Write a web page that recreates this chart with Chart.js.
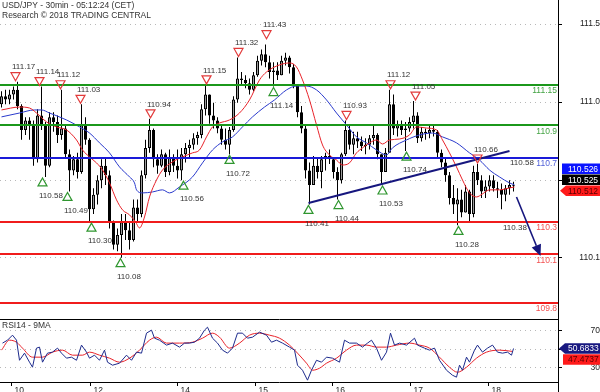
<!DOCTYPE html>
<html>
<head>
<meta charset="utf-8">
<title>USD/JPY 30min</title>
<script src="https://cdn.jsdelivr.net/npm/chart.js@4.4.1/dist/chart.umd.min.js"></script>
<style>
 html, body { margin:0; padding:0; background:#fff; }
 #wrap { position:relative; width:600px; height:392px; overflow:hidden; background:#fff; }
 canvas { position:absolute; left:0; display:block; }
 #main { top:0; }
 #rsi { top:319px; }
</style>
</head>
<body>
<div id="wrap">
 <canvas id="main" width="600" height="319" style="width:600px;height:319px"></canvas>
 <canvas id="rsi" width="600" height="73" style="width:600px;height:73px"></canvas>
</div>
<script>
// ---------------- DATA ----------------
const titleLine1 = 'USD/JPY - 30min - 05:12:24 (CET)';
const titleLine2 = 'Research \u00A9 2018 TRADING CENTRAL';
const rsiTitle = 'RSI14 - 9MA';

// candles (one per ~2.5 bars of 30 min), index 0..128
const candleOpen = [
 111.03,111.08,111.06,111.09,111.12,111.02,110.87,110.93,110.90,110.69,
 110.96,110.90,110.65,110.95,110.92,110.84,110.88,110.72,110.62,110.69,
 110.61,110.90,110.81,110.38,110.47,110.56,110.65,110.59,110.30,110.16,
 110.22,110.30,110.25,110.19,110.39,110.35,110.59,110.76,110.87,110.69,
 110.65,110.72,110.61,110.70,110.65,110.62,110.72,110.76,110.78,110.82,
 110.84,111.00,111.09,110.96,110.93,110.88,110.81,110.78,110.87,111.06,
 111.19,111.18,111.16,111.12,111.21,111.30,111.34,111.29,111.23,111.24,
 111.21,111.30,111.32,111.26,111.15,110.98,110.88,110.62,110.53,110.65,
 110.61,110.69,110.71,110.69,110.61,110.56,110.72,110.87,110.78,110.82,
 110.80,110.77,110.78,110.82,110.84,110.72,110.61,110.73,111.03,110.88,
 110.90,110.87,110.88,110.92,110.96,110.82,110.86,110.85,110.87,110.86,
 110.73,110.67,110.59,110.45,110.41,110.44,110.36,110.49,110.35,110.61,
 110.56,110.49,110.52,110.56,110.51,110.50,110.47,110.51,110.53];
const candleHigh = [
 111.11,111.12,111.12,111.14,111.17,111.03,110.95,110.95,110.93,111.00,
 111.14,110.92,110.98,110.98,110.96,111.12,110.90,110.75,110.71,110.73,
 111.03,110.95,110.82,110.51,110.59,110.69,110.70,110.62,110.31,110.26,
 110.35,110.35,110.30,110.44,110.44,110.62,110.81,110.94,110.88,110.72,
 110.75,110.73,110.75,110.72,110.75,110.76,110.79,110.81,110.85,110.86,
 111.03,111.15,111.09,111.04,110.95,110.90,110.88,110.89,111.08,111.32,
 111.23,111.21,111.19,111.23,111.33,111.37,111.40,111.33,111.29,111.29,
 111.33,111.35,111.33,111.28,111.15,111.02,110.90,110.67,110.71,110.70,
 110.71,110.73,110.75,110.70,110.64,110.73,110.93,110.90,110.86,110.86,
 110.83,110.82,110.84,110.90,110.85,110.72,110.76,111.12,111.09,110.93,
 110.93,110.92,110.95,111.05,110.98,110.89,110.88,110.90,110.90,110.87,
 110.75,110.70,110.61,110.53,110.51,110.50,110.53,110.50,110.65,110.66,
 110.59,110.56,110.59,110.59,110.55,110.54,110.53,110.56,110.55];
const candleLow = [
 111.01,111.03,111.03,111.06,111.00,110.81,110.84,110.81,110.65,110.67,
 110.87,110.58,110.64,110.86,110.79,110.81,110.70,110.49,110.59,110.57,
 110.60,110.78,110.30,110.35,110.41,110.51,110.53,110.26,110.13,110.12,
 110.08,110.19,110.13,110.18,110.30,110.33,110.57,110.73,110.64,110.60,
 110.64,110.58,110.59,110.61,110.57,110.56,110.67,110.70,110.75,110.78,
 110.82,110.96,110.91,110.88,110.85,110.78,110.75,110.72,110.86,111.04,
 111.15,111.13,111.09,111.11,111.20,111.27,111.26,111.19,111.14,111.18,
 111.21,111.27,111.22,111.13,110.95,110.85,110.57,110.41,110.53,110.57,
 110.51,110.62,110.66,110.57,110.44,110.54,110.71,110.75,110.72,110.76,
 110.74,110.72,110.75,110.78,110.69,110.53,110.61,110.73,110.84,110.83,
 110.84,110.74,110.86,110.88,110.79,110.80,110.81,110.82,110.83,110.70,
 110.64,110.55,110.41,110.35,110.28,110.33,110.36,110.30,110.33,110.53,
 110.45,110.45,110.49,110.49,110.45,110.38,110.43,110.47,110.49];
const candleClose = [
 111.08,111.06,111.09,111.12,111.02,110.87,110.93,110.90,110.69,110.96,
 110.90,110.65,110.95,110.92,110.84,110.88,110.72,110.62,110.69,110.61,
 110.90,110.81,110.38,110.47,110.56,110.65,110.59,110.30,110.16,110.22,
 110.30,110.25,110.19,110.39,110.35,110.59,110.76,110.87,110.69,110.65,
 110.72,110.61,110.70,110.65,110.62,110.72,110.76,110.78,110.82,110.84,
 111.00,111.09,110.96,110.93,110.88,110.81,110.78,110.87,111.06,111.19,
 111.18,111.16,111.12,111.21,111.30,111.34,111.29,111.23,111.24,111.21,
 111.30,111.32,111.26,111.15,110.98,110.88,110.62,110.53,110.65,110.61,
 110.69,110.71,110.69,110.61,110.56,110.72,110.87,110.78,110.82,110.80,
 110.77,110.78,110.82,110.84,110.72,110.61,110.73,111.03,110.88,110.90,
 110.87,110.88,110.92,110.96,110.82,110.86,110.85,110.87,110.86,110.73,
 110.67,110.59,110.45,110.41,110.44,110.36,110.49,110.35,110.61,110.56,
 110.49,110.52,110.56,110.51,110.50,110.47,110.51,110.53,110.525];

// moving averages on price (x = candle index)
const maFastX = [0,4.5,7,8.75,11.25,13.75,16.25,18.75,20.25,22,23.75,25.25,27,28.75,30.25,32,33.5,34.5,35.75,37,38.75,40.25,42.75,45.25,47.75,49.5,51.25,52.75,54.5,57,59.5,62,64.5,66.25,69.5,72,73.75,75.25,77,78.75,80.25,82,83.75,85.25,87,88.75,90.25,92,93.75,95.25,97,99.5,102,103.75,106.25,108.75,110.25,112,113.75,115.25,117,118.75,120.25,122,124.5,127,128.25];
const maFastY = [110.995,111.013,111.007,110.976,110.921,110.890,110.871,110.809,110.747,110.704,110.667,110.623,110.543,110.438,110.376,110.345,110.302,110.264,110.332,110.456,110.561,110.623,110.673,110.704,110.729,110.747,110.828,110.890,110.914,110.933,110.976,111.057,111.181,111.230,111.274,111.286,111.261,111.181,111.057,110.902,110.778,110.716,110.685,110.654,110.667,110.729,110.760,110.791,110.809,110.784,110.809,110.815,110.840,110.890,110.883,110.871,110.809,110.729,110.642,110.561,110.481,110.456,110.475,110.500,110.500,110.512,110.518];
const maSlowX = [0,4.5,8.25,10,12,16.25,19.5,22,24.5,27,29.5,32,33.25,33.75,35.25,37.75,40.25,42,44.5,47.75,50.25,52.75,55.25,57.75,60.25,62.75,65.75,68.25,71.25,73.75,76.25,78.75,81.25,83.75,86.25,88.75,91.25,93.75,96.25,97.75,101.25,104.5,107.75,110.25,113.75,117,119.5,122,124.5,127,128.25];
const maSlowY = [110.952,110.976,110.995,110.995,110.976,110.933,110.890,110.852,110.791,110.729,110.642,110.580,110.543,110.500,110.481,110.487,110.500,110.481,110.518,110.580,110.667,110.747,110.797,110.828,110.890,110.952,111.013,111.057,111.119,111.143,111.143,111.119,111.057,110.976,110.902,110.828,110.791,110.747,110.716,110.760,110.809,110.840,110.852,110.828,110.791,110.729,110.685,110.623,110.580,110.543,110.531];

// horizontal key levels
const levelValues = [111.15, 110.9, 110.7, 110.3, 110.1, 109.8];
const levelLabels = ['111.15', '110.9', '110.7', '110.3', '110.1', '109.8'];
const levelKind   = ['resistance', 'resistance', 'pivot', 'support', 'support', 'support'];

// swing high / low annotations
const markX     = [3.5, 9.5, 14.75, 19.75, 37.25, 51.25, 59.25, 66.25, 86.25, 97.25, 103.5, 119, 128,
                   10.25, 16.5, 22.5, 29.75, 45.5, 57, 68, 76.75, 84.25, 95.25, 101.25, 114.25, 126.25];
const markPrice = [111.17, 111.14, 111.12, 111.03, 110.94, 111.15, 111.32, 111.43, 110.93, 111.12, 111.05, 110.66, 110.58,
                   110.58, 110.49, 110.30, 110.08, 110.56, 110.72, 111.14, 110.41, 110.44, 110.53, 110.74, 110.28, 110.38];
const markKind  = ['H','H','H','H','H','H','H','H','H','H','H','H','H',
                   'L','L','L','L','L','L','L','L','L','L','L','L','L'];
const markText  = ['111.17','111.14','111.12','111.03','110.94','111.15','111.32','111.43','110.93','111.12','111.05','110.66','110.58',
                   '110.58','110.49','110.30','110.08','110.56','110.72','111.14','110.41','110.44','110.53','110.74','110.28','110.38'];
const markTriangle = [1,1,1,1,1,1,1,1,1,1,1,1,0, 1,1,1,1,1,1,1,1,1,1,1,1,0];

// trend line and projection arrow: [index, price]
const trendFrom = [76.75, 110.419];
const trendTo   = [127, 110.741];
const arrowFrom = [128.75, 110.456];
const arrowTo   = [134.75, 110.091];

// price axis ticks
const priceTickValues = [111.527, 111.044, 110.561, 110.078];
const priceTickLabels = ['111.5', '111.0', '110.5', '110.1'];
// last price tags
const priceTagValues = [110.526, 110.525, 110.512];

// date axis
const dateTickX = [2.5, 22.25, 44, 63.5, 82.75, 102.25, 121.75];
const dateTickLabels = ['10', '12', '14', '15', '16', '17', '18'];

// RSI14 and its 9-period MA
const rsiX = [0.25,1.5,2.75,3.75,4.5,5.75,7,7.75,8.75,9.5,10.25,11.5,12.75,14,15,16.25,17.5,18.75,20,21.25,22,23.25,24.5,25.75,26.5,27.75,29.5,31.25,32.5,33.75,35,36.25,37.5,38.25,39.5,41.25,42.75,44.5,45.75,47,48.25,49.5,50.75,51.5,52.75,54,55.25,56.5,57.75,59,60.25,61.5,62.75,64.5,66.25,67.5,68.75,70.25,72,73.25,74,75.25,76.5,77.5,78.75,80,81.25,82.75,84.5,85.75,87,88.75,90.25,91.5,92.5,93.75,95,96.25,97.25,98.25,99.5,101.25,103.25,104,105.75,107,108.25,109.5,111.25,112.75,113.75,114.5,115.25,116.25,117,118.25,119,120.25,121.5,122.75,124,125.25,126.5,127.5,128];
const rsiY = [56.6,59.8,65.3,59.8,37.8,45.6,35.7,30.2,51.1,52.2,35.7,45.6,46.7,51.1,45.6,40.1,41.2,37.8,54.4,46.7,40.1,43.4,37.8,48.9,35.7,32.4,34.6,43.4,37.8,46.7,45.6,67.5,70.8,62.0,59.8,54.4,56.6,52.2,56.6,56.6,57.6,62.0,70.8,74.0,62.0,56.6,48.9,45.6,51.1,67.5,67.5,62.0,63.1,68.6,65.3,57.6,59.8,56.6,52.2,48.9,32.4,26.9,16.0,26.9,37.8,35.7,41.2,40.1,35.7,59.8,56.6,56.6,52.2,56.6,59.8,51.1,37.8,46.7,67.5,54.4,56.6,54.4,62.0,54.4,51.1,48.9,51.1,37.8,26.9,21.4,19.3,32.4,26.9,41.2,35.7,48.9,54.4,46.7,51.1,54.4,46.7,45.6,46.7,43.4,50.68];
const rsiMaX = [0,2,3.75,5.25,7.75,10.25,12.75,15.25,17.75,20.25,22,24.5,27,29.5,32,34.5,37,38.75,41.25,44.5,47.75,50.25,52.75,54.5,57,59.5,62,64.5,67,69.5,72,74,76.25,77.75,79.5,81.25,83.75,86.25,88.75,91.25,93.75,96.25,98.75,102,104.5,107,109.5,112,114,116.25,118.75,121.25,124.5,127.75];
const rsiMaY = [48.9,59.8,57.6,51.1,41.2,41.2,46.7,48.9,43.4,43.4,46.7,43.4,40.1,35.7,40.1,48.9,59.8,63.1,56.6,56.6,57.6,62.0,67.5,63.1,51.1,56.6,65.3,67.5,65.3,62.0,54.4,45.6,34.6,26.9,29.1,34.6,40.1,48.9,54.4,54.4,52.2,52.2,54.4,56.6,54.4,51.1,41.2,30.2,24.7,30.2,40.1,46.7,48.9,47.47];
const rsiTickValues = [70, 50, 30];
const rsiTickLabels = ['70', '50', '30'];
const rsiTagValues = [50.6833, 47.4737];

// ---------------- STYLE ----------------
const FONT = 'Arial, "Liberation Sans", sans-serif';
Chart.defaults.font.family = FONT;
Chart.defaults.font.size = 8.5;
Chart.defaults.color = '#222';
const LEVEL_COLORS = {resistance: '#1b981b', pivot: '#1a1ad8', support: '#f01c1c'};
const LEVEL_TEXT = {resistance: '#43a343', pivot: '#5060d8', support: '#f25050'};
const X_MIN = -0.375, X_MAX = 139.125;

function xy(xs, ys) { return xs.map((x, i) => ({x: x, y: ys[i]})); }
function fmt(v, d) { return v.toFixed(d); }

// ---------------- MAIN CHART ----------------
const idx = candleClose.map((_, i) => i);

const mainDecor = {
  id: 'mainDecor',
  afterDatasetsDraw(chart) {
    const {ctx, chartArea: a, scales: {x, y}} = chart;
    ctx.save();
    ctx.beginPath(); ctx.rect(a.left, a.top, a.right - a.left, a.bottom - a.top); ctx.clip();
    // key levels
    levelValues.forEach((v, i) => {
      const py = Math.round(y.getPixelForValue(v));
      ctx.strokeStyle = LEVEL_COLORS[levelKind[i]];
      ctx.lineWidth = 2;
      ctx.beginPath(); ctx.moveTo(a.left, py); ctx.lineTo(a.right, py); ctx.stroke();
    });
    // trend line
    ctx.strokeStyle = '#16167e'; ctx.lineWidth = 2;
    ctx.beginPath();
    ctx.moveTo(x.getPixelForValue(trendFrom[0]), y.getPixelForValue(trendFrom[1]));
    ctx.lineTo(x.getPixelForValue(trendTo[0]), y.getPixelForValue(trendTo[1]));
    ctx.stroke();
    // arrow
    const ax0 = x.getPixelForValue(arrowFrom[0]), ay0 = y.getPixelForValue(arrowFrom[1]);
    const ax1 = x.getPixelForValue(arrowTo[0]), ay1 = y.getPixelForValue(arrowTo[1]);
    const ang = Math.atan2(ay1 - ay0, ax1 - ax0);
    const hl = 11, hw = 5;
    const bx = ax1 - hl * Math.cos(ang), by = ay1 - hl * Math.sin(ang);
    ctx.lineWidth = 1.6;
    ctx.beginPath(); ctx.moveTo(ax0, ay0); ctx.lineTo(bx, by); ctx.stroke();
    ctx.fillStyle = '#16167e';
    ctx.beginPath();
    ctx.moveTo(ax1, ay1);
    ctx.lineTo(bx + hw * Math.sin(ang), by - hw * Math.cos(ang));
    ctx.lineTo(bx - hw * Math.sin(ang), by + hw * Math.cos(ang));
    ctx.closePath(); ctx.fill();
    // swing markers
    ctx.font = '8px ' + FONT;
    ctx.textBaseline = 'middle'; ctx.textAlign = 'left';
    markX.forEach((mx, i) => {
      const px = x.getPixelForValue(mx);
      const py = y.getPixelForValue(markPrice[i]);
      const high = markKind[i] === 'H';
      ctx.lineWidth = 1.2;
      if (markTriangle[i]) {
        ctx.strokeStyle = high ? '#e23a3a' : '#2f962f';
        ctx.beginPath();
        if (high) {
          ctx.moveTo(px, py - 1); ctx.lineTo(px - 4.5, py - 9); ctx.lineTo(px + 4.5, py - 9);
        } else {
          ctx.moveTo(px, py + 1); ctx.lineTo(px - 4.5, py + 9); ctx.lineTo(px + 4.5, py + 9);
        }
        ctx.closePath(); ctx.stroke();
      }
      ctx.fillStyle = '#333';
      ctx.fillText(markText[i], px - 3.5, high ? py - 14.5 : py + 19);
    });
    // level labels
    ctx.font = '8.5px ' + FONT;
    ctx.textAlign = 'right';
    levelValues.forEach((v, i) => {
      const py = y.getPixelForValue(v);
      ctx.fillStyle = LEVEL_TEXT[levelKind[i]];
      ctx.fillText(levelLabels[i], a.right - 1, py + 6);
    });
    ctx.restore();
  },
  afterDraw(chart) {
    const {ctx, chartArea: a, scales: {y}} = chart;
    ctx.save();
    // right border
    ctx.strokeStyle = '#000'; ctx.lineWidth = 1;
    ctx.beginPath(); ctx.moveTo(a.right + 0.5, 0); ctx.lineTo(a.right + 0.5, chart.height); ctx.stroke();
    // title
    ctx.font = '8.5px ' + FONT; ctx.fillStyle = '#333';
    ctx.textAlign = 'left'; ctx.textBaseline = 'middle';
    ctx.fillText(titleLine1, 2, 6);
    ctx.fillText(titleLine2, 2, 16);
    // price tags
    const cy = y.getPixelForValue(priceTagValues[1]) - 6;
    drawTag(ctx, fmt(priceTagValues[0], 3), cy - 11, '#0a14ff', '#fff', 562, false);
    drawTag(ctx, fmt(priceTagValues[1], 3), cy, '#000', '#fff', 562, false);
    drawTag(ctx, fmt(priceTagValues[2], 3), cy + 11, '#ff1a1a', '#5a0000', 566, true);
    ctx.restore();
  }
};

function drawTag(ctx, text, cy, bg, fg, left, arrow) {
  const h = 10.5, right = 600;
  ctx.fillStyle = bg;
  ctx.beginPath();
  if (arrow) {
    ctx.moveTo(left - 6, cy); ctx.lineTo(left, cy - h / 2); ctx.lineTo(right, cy - h / 2);
    ctx.lineTo(right, cy + h / 2); ctx.lineTo(left, cy + h / 2); ctx.closePath();
  } else {
    ctx.rect(left, cy - h / 2, right - left, h);
  }
  ctx.fill();
  ctx.font = '8.5px ' + FONT;
  ctx.fillStyle = fg; ctx.textAlign = 'left'; ctx.textBaseline = 'middle';
  ctx.fillText(text, 568, cy + 0.5);
}

new Chart(document.getElementById('main'), {
  type: 'bar',
  data: {
    datasets: [
      {
        type: 'line', label: 'MA fast', data: xy(maFastX, maFastY),
        borderColor: '#e8232a', borderWidth: 1, pointRadius: 0,
        cubicInterpolationMode: 'monotone', order: 0
      },
      {
        type: 'line', label: 'MA slow', data: xy(maSlowX, maSlowY),
        borderColor: '#2a3acc', borderWidth: 1, pointRadius: 0,
        cubicInterpolationMode: 'monotone', order: 1
      },
      {
        type: 'bar', label: 'body',
        data: idx.map(i => ({x: i, y: [Math.min(candleOpen[i], candleClose[i]), Math.max(candleOpen[i], candleClose[i])]})),
        backgroundColor: idx.map(i => candleClose[i] >= candleOpen[i] ? '#9c9c9c' : '#000000'),
        borderColor: '#000', borderWidth: 1, borderSkipped: false, inflateAmount: 0,
        barThickness: 3, grouped: false, order: 2
      },
      {
        type: 'bar', label: 'wick',
        data: idx.map(i => ({x: i, y: [candleLow[i], candleHigh[i]]})),
        backgroundColor: '#000', borderWidth: 0, inflateAmount: 0,
        barThickness: 1, grouped: false, order: 3
      }
    ]
  },
  options: {
    responsive: false, animation: false, devicePixelRatio: 1,
    layout: {padding: 0},
    plugins: {legend: {display: false}, tooltip: {enabled: false}, title: {display: false}},
    scales: {
      x: {type: 'linear', min: X_MIN, max: X_MAX, offset: false, display: false, grid: {offset: false}},
      y: {
        type: 'linear', position: 'right', min: 109.7, max: 111.676, beginAtZero: false,
        afterBuildTicks: (s) => { s.ticks = priceTickValues.map(v => ({value: v})); },
        afterFit: (s) => { s.width = 42; s.paddingTop = 0; s.paddingBottom = 0; },
        ticks: {callback: (v, i) => priceTickLabels[i], crossAlign: 'far', padding: 14, color: '#222', font: {size: 8.5}},
        grid: {color: '#b8b8b8', lineWidth: 1, drawTicks: true, tickLength: 4, tickColor: '#000', tickBorderDash: []},
        border: {display: false, dash: [1, 4]}
      }
    }
  },
  plugins: [mainDecor]
});

// ---------------- RSI CHART ----------------
const rsiDecor = {
  id: 'rsiDecor',
  afterDraw(chart) {
    const {ctx, chartArea: a, scales: {y}} = chart;
    ctx.save();
    ctx.strokeStyle = '#000'; ctx.lineWidth = 1;
    ctx.beginPath();
    ctx.moveTo(0, 0.5); ctx.lineTo(a.right + 1, 0.5);
    ctx.moveTo(0, a.bottom + 0.5); ctx.lineTo(a.right + 1, a.bottom + 0.5);
    ctx.moveTo(a.right + 0.5, 0); ctx.lineTo(a.right + 0.5, chart.height);
    ctx.stroke();
    ctx.font = '8.5px ' + FONT; ctx.fillStyle = '#333';
    ctx.textAlign = 'left'; ctx.textBaseline = 'middle';
    ctx.fillText(rsiTitle, 2, 7);
    const cy = y.getPixelForValue(rsiTagValues[0]);
    drawTag(ctx, fmt(rsiTagValues[0], 4), cy, '#181880', '#fff', 565, true);
    drawTag(ctx, fmt(rsiTagValues[1], 4), cy + 11, '#ff1a1a', '#5a0000', 563, false);
    ctx.restore();
  }
};

new Chart(document.getElementById('rsi'), {
  type: 'line',
  data: {
    datasets: [
      {label: 'RSI14', data: xy(rsiX, rsiY), borderColor: '#1c2a8c', borderWidth: 1, pointRadius: 0, tension: 0},
      {label: 'MA9', data: xy(rsiMaX, rsiMaY), borderColor: '#e8232a', borderWidth: 1, pointRadius: 0, cubicInterpolationMode: 'monotone'}
    ]
  },
  options: {
    responsive: false, animation: false, devicePixelRatio: 1,
    layout: {padding: 0},
    plugins: {legend: {display: false}, tooltip: {enabled: false}},
    scales: {
      x: {
        type: 'linear', min: X_MIN, max: X_MAX, offset: false,
        afterBuildTicks: (s) => { s.ticks = dateTickX.map(v => ({value: v})); },
        afterFit: (s) => { s.height = 10; s.paddingLeft = 0; s.paddingRight = 0; },
        ticks: {callback: (v, i) => dateTickLabels[i], align: 'start', labelOffset: 3, padding: 0,
                autoSkip: false, maxRotation: 0, color: '#222', font: {size: 8.5}},
        grid: {drawOnChartArea: false, drawTicks: true, tickLength: 4, tickColor: '#000', color: '#000'},
        border: {display: false}
      },
      y: {
        type: 'linear', position: 'right', min: 14, max: 83,
        afterBuildTicks: (s) => { s.ticks = rsiTickValues.map(v => ({value: v})); },
        afterFit: (s) => { s.width = 42; s.paddingTop = 0; s.paddingBottom = 0; },
        ticks: {callback: (v, i) => rsiTickLabels[i], crossAlign: 'far', padding: 25, color: '#222', font: {size: 8.5}},
        grid: {color: '#b8b8b8', lineWidth: 1, drawTicks: true, tickLength: 4, tickColor: '#000', tickBorderDash: []},
        border: {display: false, dash: [1, 4]}
      }
    }
  },
  plugins: [rsiDecor]
});
</script>
</body>
</html>
